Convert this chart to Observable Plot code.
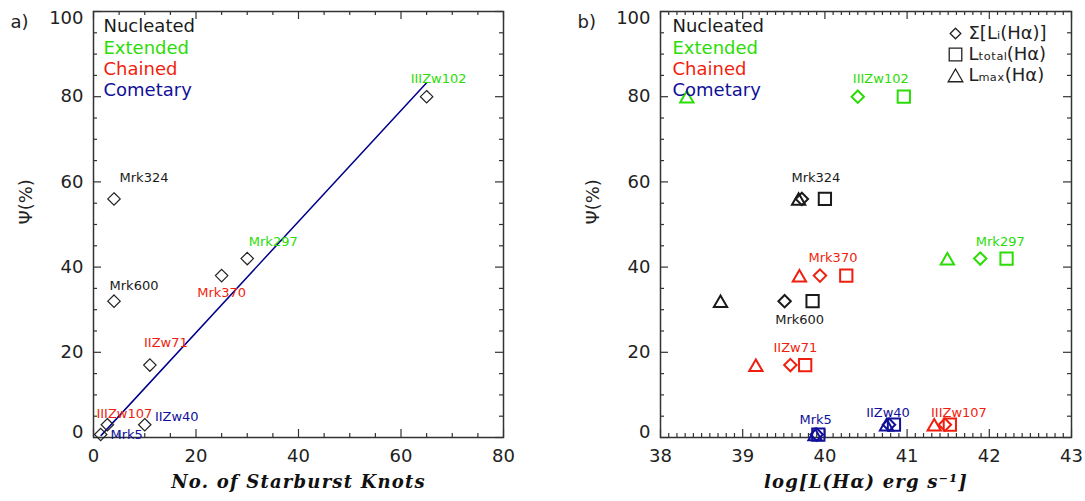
<!DOCTYPE html>
<html><head><meta charset="utf-8">
<script src="https://cdn.jsdelivr.net/npm/d3@7"></script>
<script src="https://cdn.jsdelivr.net/npm/@observablehq/plot@0.6"></script>
<style>
body{margin:0;background:#fff;}
#wrap{display:flex;width:1085px;height:501px;background:#fff;}
svg{overflow:visible;display:block}
</style></head><body><div id="wrap"></div>
<script>
// ---- data ----
const galaxies = ["Mrk324","Mrk600","IIZw71","Mrk370","Mrk297","IIIZw102","IIIZw107","IIZw40","Mrk5"];
const morphology = ["Nucleated","Nucleated","Chained","Chained","Extended","Extended","Chained","Cometary","Cometary"];
const knots = [4, 4, 11, 25, 30, 65, 2.7, 10, 1.4];
const psi = [56, 32, 17, 38, 42, 80, 3, 3, 0.7];
const logSumLi = [39.72, 39.51, 39.58, 39.94, 41.89, 40.40, 41.46, 40.78, 39.90];
const logLtotal = [40.00, 39.85, 39.76, 40.26, 42.21, 40.96, 41.52, 40.84, 39.92];
const logLmax = [39.68, 38.73, 39.16, 39.69, 41.49, 38.32, 41.33, 40.75, 39.88];
const fitKnots = [1.5, 65];
const fitPsi = [0.5, 83.3];
const classes = ["Nucleated","Extended","Chained","Cometary"];
const symbolLegend = ["Σ[Lᵢ(Hα)]", "Lₜₒₜₐₗ(Hα)", "Lₘₐₓ(Hα)"];
const xTicksA = [0,20,40,60,80];
const xTicksB = [38,39,40,41,42,43];
const yTicks = [0,20,40,60,80,100];

// ---- styles ----
const classColor = {Nucleated:"#1a1a1a", Extended:"#2bdc06", Chained:"#f01e0e", Cometary:"#10109a"};
const axisColor = "#333";
const H = 501, MT = 11, MB = 64;
const innerH = H - MT - MB;

const rows = galaxies.map((g,i)=>({name:g, cls:morphology[i], knots:knots[i], psi:psi[i],
  sum:logSumLi[i], total:logLtotal[i], max:logLmax[i]}));
const fitRows = fitKnots.map((k,i)=>({x:k, y:fitPsi[i]}));

function frameTicks(xMajor, xMinor, yMajor, yMinor, innerW){
  const s = {stroke:axisColor, strokeWidth:1.2};
  return [
    Plot.tickX(xMajor, {x:d=>d, insetTop:innerH-8, ...s}),
    Plot.tickX(xMajor, {x:d=>d, insetBottom:innerH-8, ...s}),
    Plot.tickX(xMinor, {x:d=>d, insetTop:innerH-4, ...s}),
    Plot.tickX(xMinor, {x:d=>d, insetBottom:innerH-4, ...s}),
    Plot.tickY(yMajor, {y:d=>d, insetRight:innerW-8, ...s}),
    Plot.tickY(yMajor, {y:d=>d, insetLeft:innerW-8, ...s}),
    Plot.tickY(yMinor, {y:d=>d, insetRight:innerW-4, ...s}),
    Plot.tickY(yMinor, {y:d=>d, insetLeft:innerW-4, ...s}),
    Plot.frame({stroke:axisColor, strokeWidth:1.5})
  ];
}
function yAxes(){
  const o = {tickSize:0, tickPadding:10, label:null, fontSize:18, fill:"#222"};
  return [
    Plot.axisY({ticks:yTicks.filter(v=>v>0&&v<100), ...o}),
    Plot.axisY({ticks:[0], dy:-5, ...o}),
    Plot.axisY({ticks:[100], dy:7, ...o})
  ];
}
function commonText(panel, xlabel, legendDx){
  return [
    Plot.text([panel], {text:d=>d, frameAnchor:"top-left", lineAnchor:"middle", dx:-83, dy:11, textAnchor:"start", fontSize:18, fill:"#222"}),
    Plot.text(["Ψ(%)"], {text:d=>d, frameAnchor:"left", lineAnchor:"middle", rotate:-90, dx:-67, fontSize:18, fill:"#222"}),
    Plot.text([xlabel], {text:d=>d, frameAnchor:"bottom", lineAnchor:"middle", dy:45, fontFamily:"DejaVu Serif, serif", fontWeight:"bold", fontStyle:"italic", fontSize:18, fill:"#111"}),
    ...classes.map((c,i)=>Plot.text([c], {text:d=>d, frameAnchor:"top-left", lineAnchor:"middle", dx:legendDx, dy:15+21.3*i, textAnchor:"start", fontSize:18, fill:classColor[c]}))
  ];
}
function labels(offsets, xKey){
  return rows.map(r=>Plot.text([r], {x:xKey, y:"psi", text:"name", dx:offsets[r.name][0], dy:offsets[r.name][1], fontSize:13, fill:classColor[r.cls]}));
}

const offA = {Mrk324:[30,-21], Mrk600:[20,-15], IIZw71:[16,-22], Mrk370:[0,17], Mrk297:[26,-17],
  IIIZw102:[12,-18], IIIZw107:[17,-11], IIZw40:[32,-8], Mrk5:[26,0]};
const offB = {Mrk324:[14,-21], Mrk600:[15,19], IIZw71:[5,-17], Mrk370:[13,-18], Mrk297:[20,-17],
  IIIZw102:[23,-18], IIIZw107:[14,-12], IIZw40:[-1,-12], Mrk5:[-1,-15]};

const font = "DejaVu Sans, sans-serif";

// ---- panel a ----
const WA = 542, MLA = 93, MRA = 39, innerWA = WA-MLA-MRA;
const panelA = Plot.plot({
  width:WA, height:H, marginLeft:MLA, marginRight:MRA, marginTop:MT, marginBottom:MB,
  x:{domain:[0,80]}, y:{domain:[0,100]},
  style:{fontFamily:font, fontSize:"18px", color:"#222", background:"white", overflow:"visible"},
  marks:[
    ...frameTicks(xTicksA, d3.range(5,80,5).filter(v=>v%20), yTicks, d3.range(5,100,5).filter(v=>v%20), innerWA),
    Plot.axisX({ticks:xTicksA, tickFormat:d3.format("d"), tickSize:0, tickPadding:12, label:null, fontSize:18, fill:"#222"}),
    ...yAxes(),
    Plot.line(fitRows, {x:"x", y:"y", stroke:"#00008c", strokeWidth:1.5}),
    Plot.dot(rows, {x:"knots", y:"psi", symbol:"diamond2", r:5.6, stroke:"#222", strokeWidth:1.2, fill:"none"}),
    ...labels(offA, "knots"),
    ...commonText("a)", "No. of Starburst Knots", 10)
  ]
});

// ---- panel b ----
const WB = 543, MLB = 118, MRB = 14, innerWB = WB-MLB-MRB;
const minorB = d3.range(381,430).filter(v=>v%10).map(v=>v/10);
const panelB = Plot.plot({
  width:WB, height:H, marginLeft:MLB, marginRight:MRB, marginTop:MT, marginBottom:MB,
  x:{domain:[38,43]}, y:{domain:[0,100]}, color:{type:"identity"},
  style:{fontFamily:font, fontSize:"18px", color:"#222", background:"white", overflow:"visible"},
  marks:[
    ...frameTicks(xTicksB, minorB, yTicks, d3.range(5,100,5).filter(v=>v%20), innerWB),
    Plot.axisX({ticks:xTicksB, tickFormat:d3.format("d"), tickSize:0, tickPadding:12, label:null, fontSize:18, fill:"#222"}),
    ...yAxes(),
    Plot.dot(rows, {x:"max", y:"psi", symbol:"triangle2", r:6.35, dy:2, stroke:d=>classColor[d.cls], strokeWidth:2, fill:"none"}),
    Plot.dot(rows, {x:"sum", y:"psi", symbol:"diamond2", r:5.6, stroke:d=>classColor[d.cls], strokeWidth:2, fill:"none"}),
    Plot.dot(rows, {x:"total", y:"psi", symbol:"square2", r:7.8, stroke:d=>classColor[d.cls], strokeWidth:2, fill:"none"}),
    ...labels(offB, "sum"),
    ...commonText("b)", "log[L(Hα) erg s⁻¹]", 12),
    Plot.dot([0], {frameAnchor:"top-left", dx:295, dy:22, symbol:"diamond2", r:4.8, stroke:"#222", strokeWidth:1.3, fill:"none"}),
    Plot.dot([0], {frameAnchor:"top-left", dx:295, dy:43, symbol:"square2", r:8, stroke:"#222", strokeWidth:1.3, fill:"none"}),
    Plot.dot([0], {frameAnchor:"top-left", dx:295, dy:66, symbol:"triangle2", r:7, stroke:"#222", strokeWidth:1.3, fill:"none"}),
    ...symbolLegend.map((s,i)=>Plot.text([s], {text:d=>d, frameAnchor:"top-left", lineAnchor:"middle", dx:308, dy:22+21*i, textAnchor:"start", fontSize:18, fill:"#222"}))
  ]
});

// widen the serif axis titles slightly, as in the reference
for (const svg of [panelA, panelB]) {
  d3.select(svg).selectAll('g[font-style="italic"]').attr("letter-spacing", "1.2px");
}

const wrap = document.getElementById("wrap");
wrap.append(panelA, panelB);
</script>
</body></html>
